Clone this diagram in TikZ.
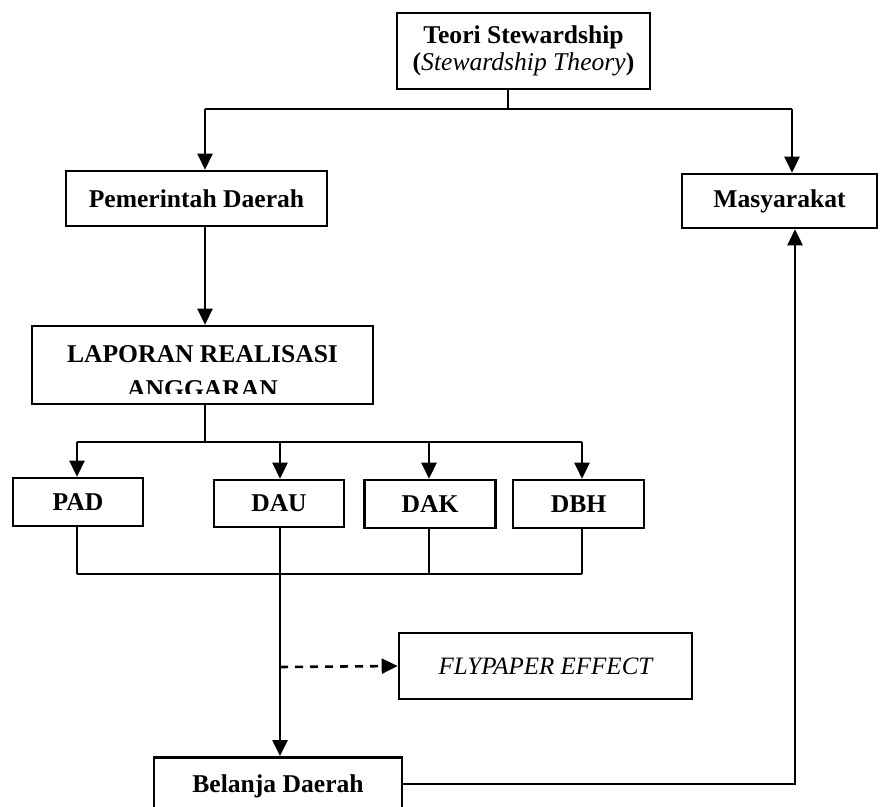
\documentclass[tikz,border=0pt]{standalone}
\usepackage{fontspec}
\setmainfont{Liberation Serif}
\usetikzlibrary{arrows.meta}

\begin{document}
\begin{tikzpicture}[x=0.5pt,y=-0.5pt,
  txt/.style={inner sep=0pt, font=\fontsize{12.8}{13.5}\selectfont\bfseries},
  box/.style={draw, line width=1.3pt, rectangle, inner sep=0pt, txt},
  arr/.style={line width=1.3pt, -{Triangle[length=8pt,width=7.5pt]}},
  link/.style={line width=1.2pt},
  thin/.style={line width=0.6pt}]
\clip (0,0) rectangle (888,807);
% boxes
\node[box, minimum width=126.5pt, minimum height=38pt, align=center] (teori) at (523.5,51)
  {Teori Stewardship\\(\textit{\mdseries Stewardship Theory})};
\node[box, minimum width=130.5pt, minimum height=27.5pt] (pemda) at (196.5,198.5) {Pemerintah Daerah};
\node[box, minimum width=97.5pt, minimum height=27pt] (masy) at (779.5,201) {Masyarakat};
\node[box, minimum width=170.5pt, minimum height=39pt] (lra) at (202.5,365) {};
\begin{scope}
\clip (lra.north west) rectangle (lra.east |- 0,393);
\node[txt, anchor=base] (lratop) at (202.5,363) {LAPORAN REALISASI};
\node[txt, anchor=base] (lrabot) at (202.5,397) {ANGGARAN};
\end{scope}
\node[box, minimum width=65pt, minimum height=24pt] (pad) at (78,502) {PAD};
\node[box, minimum width=65pt, minimum height=23.5pt] (dau) at (279,503.5) {DAU};
\node[box, minimum width=65.5pt, minimum height=24pt] (dak) at (430,504) {DAK};
\node[box, minimum width=65.5pt, minimum height=24pt] (dbh) at (578.5,504) {DBH};
\node[box, minimum width=146.5pt, minimum height=33pt, font=\fontsize{12.5}{13.5}\selectfont\itshape] (fly) at (545.5,666) {FLYPAPER EFFECT};
\node[box, minimum width=124pt, minimum height=33pt, anchor=north] (belanja) at (278,756) {};
\node[txt, anchor=base] (belanjatxt) at (278,792) {Belanja Daerah};

% from the theory down to both sides
\coordinate (split) at (508,109);
\coordinate (lefttop) at (205,109);
\coordinate (righttop) at (792,109);
\draw[thin] (teori.south -| split) -- (split);
\draw[line width=1pt] (lefttop) -- (righttop);
\draw[arr] (lefttop) -- (lefttop |- pemda.north);
\draw[arr] (righttop) -- (righttop |- masy.north);
\draw[arr] (lefttop |- pemda.south) -- (lefttop |- lra.north);

% LRA into the four sources
\coordinate (lrasplit) at (205,442);
\coordinate (padtop) at (77,442);
\coordinate (dbhtop) at (582,442);
\coordinate (padbot) at (77,574);
\coordinate (daubot) at (280,574);
\coordinate (dbhbot) at (582,574);
\draw[thin] (lrasplit |- lra.south) -- (lrasplit);
\draw[line width=1pt] (padtop) -- (dbhtop);
\foreach \n/\x in {pad/77, dau/280, dak/429, dbh/582}{
  \draw[arr] (\x,442) -- (\x,0 |- \n.north);
  \draw[thin] (\x,0 |- \n.south) -- (\x,574);
}
\draw[link] (padbot) -- (dbhbot);

% down to belanja, flypaper on the side
\coordinate (tap) at (280,667);
\draw[arr] (daubot) -- (daubot |- belanja.north);
\draw[arr, dash pattern=on 4pt off 3.5pt] (tap) -- (fly.west);

% back up to masyarakat
\coordinate (ret) at (795,784);
\draw[arr] (belanja.east |- ret) -- (ret) -- (ret |- masy.south);
\end{tikzpicture}
\end{document}
